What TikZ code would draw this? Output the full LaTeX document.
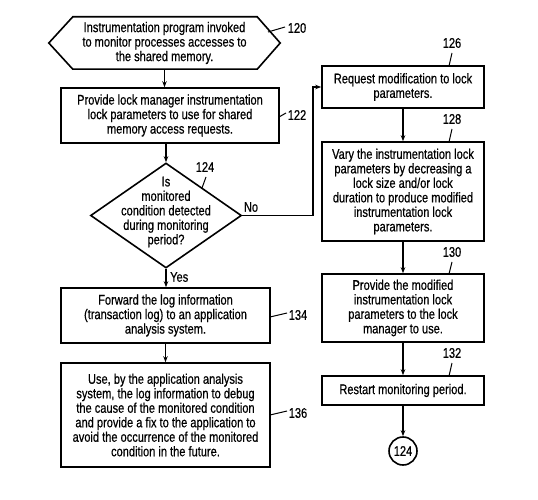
\documentclass[tikz,border=0pt]{standalone}
\usepackage{fontspec}
\setmainfont{Liberation Sans}[FakeStretch=0.79,FakeBold=0.5]
\usetikzlibrary{shapes.geometric,arrows.meta}
\begin{document}
\begin{tikzpicture}[x=1pt,y=-1pt,
  txt/.style={font=\fontsize{14}{14.5}\selectfont, align=center, inner sep=0pt},
  box/.style={txt, draw, line width=1.6pt},
  arr/.style={line width=1.1pt, -{Stealth[length=6pt,width=4.5pt]}},
  lead/.style={line width=1pt},
  num/.style={font=\fontsize{14}{14.5}\selectfont, inner sep=0pt}]
\useasboundingbox[fill=white] (0,0) rectangle (538,500);

% left column
\node[txt, minimum width=231pt, minimum height=52pt] (h120) at (164.5,43)
  {Instrumentation program invoked\\to monitor processes accesses to\\the shared memory.};
\draw[line width=1.6pt] (h120.west) -- ([xshift=24pt]h120.north west) -- ([xshift=-23pt]h120.north east)
  -- (h120.east) -- ([xshift=-23pt]h120.south east) -- ([xshift=24pt]h120.south west) -- cycle;

\node[box, minimum width=218pt, minimum height=55pt] (b122) at (170,115.5)
  {Provide lock manager instrumentation\\lock parameters to use for shared\\memory access requests.};

\node[diamond, draw, line width=1.6pt, inner sep=0pt, minimum width=151pt, minimum height=105pt] (d124) at (166,215.5) {};
\node[txt] (t124) at (166,212) {Is\\monitored\\condition detected\\during monitoring\\period?};

\node[box, minimum width=209pt, minimum height=55pt] (b134) at (165.5,315.5)
  {Forward the log information\\(transaction log) to an application\\analysis system.};

\node[box, minimum width=209pt, minimum height=104pt] (b136) at (165.5,415)
  {Use, by the application analysis\\system, the log information to debug\\the cause of the monitored condition\\and provide a fix to the application to\\avoid the occurrence of the monitored\\condition in the future.};

% right column
\node[box, minimum width=162pt, minimum height=42pt] (b126) at (403,87)
  {Request modification to lock\\parameters.};
\node[box, minimum width=162pt, minimum height=99pt] (b128) at (403,191.5)
  {Vary the instrumentation lock\\parameters by decreasing a\\lock size and/or lock\\duration to produce modified\\instrumentation lock\\parameters.};
\node[box, minimum width=162pt, minimum height=68pt] (b130) at (403,308)
  {Provide the modified\\instrumentation lock\\parameters to the lock\\manager to use.};
\node[box, minimum width=162pt, minimum height=29pt] (b132) at (403,390.5)
  {Restart monitoring period.};
\node[circle, draw, line width=1.6pt, txt, minimum size=28pt] (c124) at (403,451) {124};

% connectors
\draw[arr] (h120.south) -- (h120.south |- b122.north);
\draw[arr] (b122.south -| d124.north) -- (d124.north);
\draw[arr] (d124.east) -- (313,215.5) |- (b126.west);
\draw[arr] (d124.south) -- (d124.south |- b134.north);
\draw[arr] (b134.south) -- (b136.north);
\draw[arr] (b126.south) -- (b128.north);
\draw[arr] (b128.south) -- (b130.north);
\draw[arr] (b130.south) -- (b132.north);
\draw[arr] (b132.south) -- (c124.north);

\node[num] (no) at (251,207) {No};
\node[num, anchor=west] (yes) at (170,277) {Yes};

% reference numerals
\node[num] (n120) at (297,28) {120};
\draw[lead] (268,32) -- (285,27);
\node[num] (n122) at (297,115) {122};
\draw[lead] (279,117) -- (286,113);
\node[num] (n124) at (205,167) {124};
\draw[lead] (206,177) -- (202,188);
\node[num] (n134) at (298,315) {134};
\draw[lead] (270,317) -- (287,313);
\node[num] (n136) at (298,413) {136};
\draw[lead] (270,415) -- (287,411);
\node[num] (n126) at (452,43) {126};
\draw[lead] (452,53) -- (449,66);
\node[num] (n128) at (452,119) {128};
\draw[lead] (452,129) -- (449,142);
\node[num] (n130) at (452,252) {130};
\draw[lead] (452,262) -- (449,274);
\node[num] (n132) at (452,353) {132};
\draw[lead] (452,363) -- (449,376);
\end{tikzpicture}
\end{document}
